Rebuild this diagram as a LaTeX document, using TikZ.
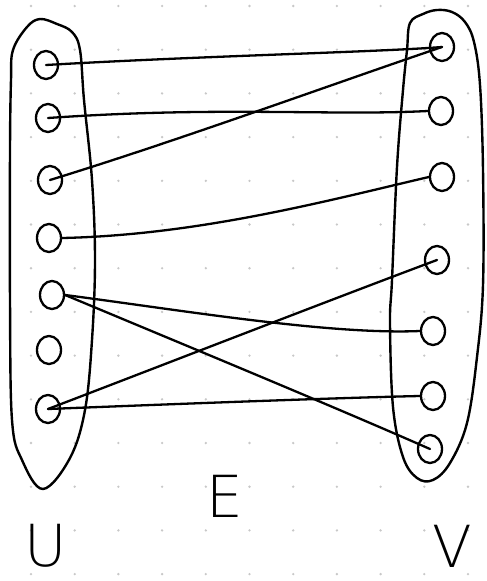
\documentclass[tikz,border=0pt]{standalone}
\usepackage{fontspec}
\newfontfamily\handfont{DejaVuSans-ExtraLight.ttf}
\usetikzlibrary{shapes.geometric}
\definecolor{dotgray}{RGB}{200,200,200}
\begin{document}
\begin{tikzpicture}[x=1pt,y=-1pt,
  vert/.style={ellipse,draw,line width=2.3pt,minimum width=24pt,minimum height=28pt,inner sep=0pt},
  edge/.style={line width=2.3pt,line cap=round},
  blob/.style={line width=2.4pt},
  lbl/.style={font=\handfont\fontsize{58}{58}\selectfont,inner sep=0pt}]
\fill[white] (0,0) rectangle (487,581);
\useasboundingbox (0,0) rectangle (487,581);
\foreach \i in {0,...,10}{\foreach \j in {0,...,13}{\fill[dotgray] ({31+\i*43.7},{6+\j*43.7}) circle (1.3);}}
% blobs
\draw[blob] plot[smooth cycle,tension=0.6] coordinates {(13,50) (27,27) (40,19) (57,24) (72,32) (80,50) (84,100) (92,180) (95,260) (92,340) (85,410) (70,458) (43,489) (22,460) (12,420) (10,300) (10,150) (11,80)};
\draw[blob] plot[smooth cycle,tension=0.6] coordinates {(410,23) (423,14) (437,10) (452,12) (465,22) (474,42) (480,85) (483,170) (483,285) (477,357) (467,423) (450,463) (433,480) (417,478) (403,457) (393,407) (390,323) (392,280) (397,167) (403,90) (407,50)};
% vertices
\node[vert] (U1) at (46,65) {};
\node[vert] (U2) at (48,118) {};
\node[vert] (U3) at (50,180) {};
\node[vert] (U4) at (49,238) {};
\node[vert] (U5) at (52,295) {};
\node[vert] (U6) at (49,350) {};
\node[vert] (U7) at (48,409) {};
\node[vert] (V1) at (442,47) {};
\node[vert] (V2) at (441,111) {};
\node[vert] (V3) at (442,177) {};
\node[vert] (V4) at (437,260) {};
\node[vert] (V5) at (433,331) {};
\node[vert] (V6) at (433,396) {};
\node[vert] (V7) at (430,449) {};
% edges
\draw[edge] (U1.center) .. controls (200,56) and (380,52) .. (V1.center);
\draw[edge] (U2.center) .. controls (220,106) and (330,116) .. (V2.west);
\draw[edge] (U3.center) .. controls (180,140) and (330,85) .. (V1.center);
\draw[edge] (U4.east) .. controls (200,235) and (330,200) .. (V3.west);
\draw[edge] (U5.east) .. controls (180,310) and (330,335) .. (V5.west);
\draw[edge] (U5.east) .. controls (180,343) and (330,405) .. (V7.center);
\draw[edge] (U7.center) .. controls (150,370) and (330,300) .. (V4.center);
\draw[edge] (U7.center) .. controls (150,405) and (330,398) .. (V6.west);
% labels
\node[lbl] (lu) at (46,546) {U};
\node[lbl] (le) at (225,496) {E};
\node[lbl] (lv) at (452,546) {V};
\end{tikzpicture}
\end{document}
